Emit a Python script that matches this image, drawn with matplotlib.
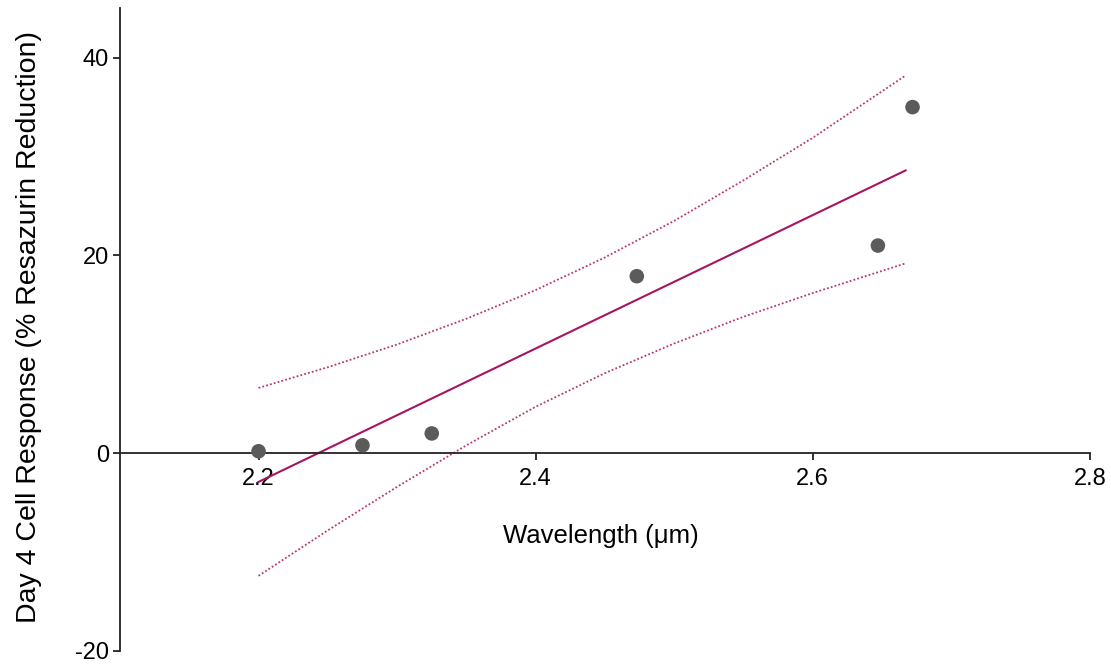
import matplotlib.pyplot as plt
import numpy as np

# measured points
wavelength = [2.2, 2.275, 2.325, 2.473, 2.647, 2.672]
response = [0.2, 0.8, 2.0, 17.9, 21.0, 35.0]

# regression line and 95% band
fit_x = [2.2, 2.667]
fit_y = [-2.9, 28.6]
band_x = [2.2, 2.25, 2.3, 2.35, 2.4, 2.45, 2.5, 2.55, 2.6, 2.667]
band_upper = [6.6, 8.7, 11.0, 13.6, 16.5, 19.8, 23.5, 27.6, 31.9, 38.2]
band_lower = [-12.4, -7.8, -3.4, 0.8, 4.7, 8.1, 11.1, 13.8, 16.2, 19.2]

xticks = [2.2, 2.4, 2.6, 2.8]
yticks = [-20, 0, 20, 40]

plt.rcParams['font.family'] = ['Liberation Sans', 'DejaVu Sans']
plt.rcParams['axes.unicode_minus'] = False

fig = plt.figure(figsize=(11.11, 6.64), dpi=100)
ax = fig.add_axes([0.108, 0.0196, 0.873, 0.968])

line_col = '#a8145f'
ax.plot(band_x, band_upper, color=line_col, lw=1.3, ls=(0, (1, 1.2)), alpha=0.85)
ax.plot(band_x, band_lower, color=line_col, lw=1.3, ls=(0, (1, 1.2)), alpha=0.85)
ax.plot(fit_x, fit_y, color=line_col, lw=1.5)
ax.scatter(wavelength, response, s=110, color='#5b5b5b', zorder=3, edgecolors='none')

ax.set_xlim(2.1, 2.8)
ax.set_ylim(-20, 45)
ax.set_xticks(xticks)
ax.set_xticklabels(['2.2', '2.4', '2.6', '2.8'])
ax.set_yticks(yticks)

ax.spines['top'].set_visible(False)
ax.spines['right'].set_visible(False)
ax.spines['bottom'].set_position(('data', 0))
ax.spines['left'].set_bounds(-20, 45)
for s in ['left', 'bottom']:
    ax.spines[s].set_color('#222222')
    ax.spines[s].set_linewidth(1.3)
ax.tick_params(axis='both', direction='out', length=5, width=1.3, color='#222222',
               labelsize=17)
ax.tick_params(axis='x', pad=6)
ax.tick_params(axis='y', pad=3)

ax.set_xlabel('Wavelength (μm)', fontsize=18.5)
ax.xaxis.set_label_coords(0.496, 0.197)
ax.set_ylabel('Day 4 Cell Response (% Resazurin Reduction)', fontsize=20.5)
ax.yaxis.set_label_coords(-0.08, 0.504)

fig.savefig('out.png', dpi=100)
